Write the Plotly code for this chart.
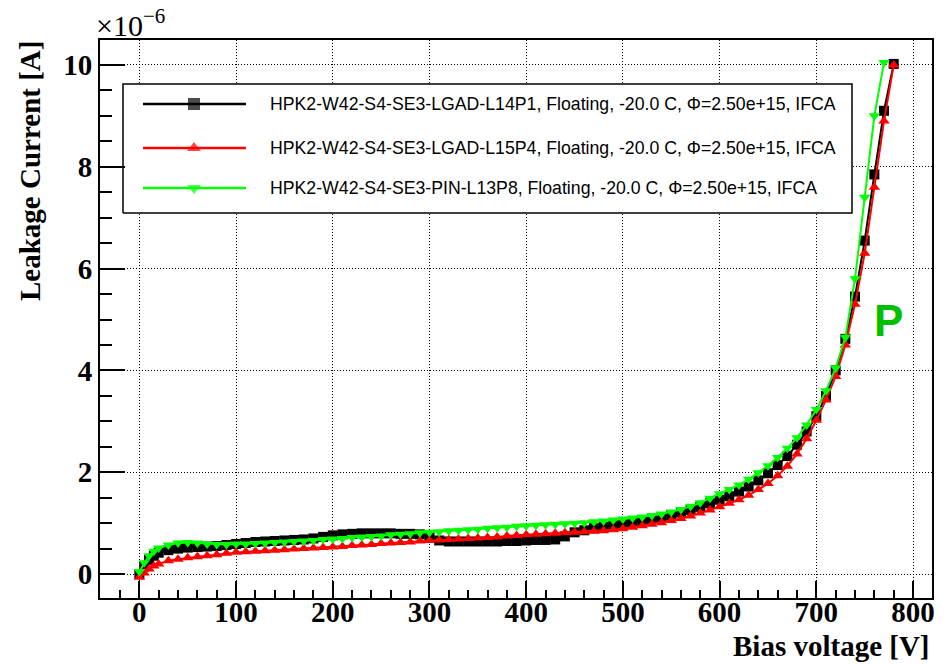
import plotly.graph_objects as go

# ---------------- data (current in units of 1e-6 A) ----------------
v_black = [0, 5, 10, 15, 20, 30, 40, 50, 60, 70, 80, 90, 100, 110, 120, 130, 140, 150, 160, 170,
           180, 190, 200, 210, 220, 230, 240, 250, 260, 270, 280, 290, 300, 310, 320, 330, 340, 350,
           360, 370, 380, 390, 400, 410, 420, 430, 440, 450, 460, 470, 480, 490, 500, 510, 520, 530,
           540, 550, 560, 570, 580, 590, 600, 610, 620, 630, 640, 650, 660, 670, 680, 690, 700, 710,
           720, 730, 740, 750, 760, 770, 780]
i_black = [0.00, 0.15, 0.28, 0.36, 0.42, 0.47, 0.50, 0.52, 0.53, 0.54, 0.55, 0.57, 0.59, 0.61, 0.63,
           0.64, 0.65, 0.66, 0.67, 0.68, 0.70, 0.73, 0.76, 0.78, 0.79, 0.80, 0.80, 0.80, 0.80, 0.79,
           0.79, 0.78, 0.73, 0.66, 0.64, 0.64, 0.64, 0.64, 0.64, 0.64, 0.65, 0.65, 0.66, 0.67, 0.67,
           0.68, 0.74, 0.82, 0.86, 0.90, 0.93, 0.96, 0.99, 1.02, 1.05, 1.08, 1.12, 1.16, 1.21, 1.26,
           1.32, 1.39, 1.46, 1.53, 1.62, 1.72, 1.84, 1.98, 2.14, 2.32, 2.54, 2.80, 3.10, 3.50, 4.00,
           4.62, 5.45, 6.55, 7.85, 9.10, 10.02]

v_red = [0, 5, 10, 15, 20, 30, 40, 50, 60, 70, 80, 90, 100, 110, 120, 130, 140, 150, 160, 170,
         180, 190, 200, 210, 220, 230, 240, 250, 260, 270, 280, 290, 300, 310, 320, 330, 340, 350,
         360, 370, 380, 390, 400, 410, 420, 430, 440, 450, 460, 470, 480, 490, 500, 510, 520, 530,
         540, 550, 560, 570, 580, 590, 600, 610, 620, 630, 640, 650, 660, 670, 680, 690, 700, 710,
         720, 730, 740, 750, 760, 770, 780]
i_red = [-0.06, 0.02, 0.10, 0.16, 0.20, 0.26, 0.29, 0.32, 0.34, 0.36, 0.38, 0.41, 0.43, 0.44, 0.45,
         0.46, 0.47, 0.48, 0.49, 0.50, 0.51, 0.52, 0.53, 0.54, 0.56, 0.57, 0.58, 0.60, 0.61, 0.62,
         0.63, 0.65, 0.66, 0.67, 0.68, 0.69, 0.70, 0.71, 0.72, 0.73, 0.75, 0.76, 0.77, 0.78, 0.79,
         0.80, 0.81, 0.82, 0.83, 0.84, 0.85, 0.87, 0.89, 0.92, 0.95, 0.98, 1.01, 1.05, 1.09, 1.14,
         1.20, 1.26, 1.32, 1.39, 1.46, 1.55, 1.66, 1.78, 1.93, 2.12, 2.36, 2.66, 3.02, 3.42, 3.88,
         4.50, 5.30, 6.30, 7.60, 8.90, 10.00]

v_green = [0, 5, 10, 15, 20, 30, 40, 50, 60, 70, 80, 90, 100, 110, 120, 130, 140, 150, 160, 170,
           180, 190, 200, 210, 220, 230, 240, 250, 260, 270, 280, 290, 300, 310, 320, 330, 340, 350,
           360, 370, 380, 390, 400, 410, 420, 430, 440, 450, 460, 470, 480, 490, 500, 510, 520, 530,
           540, 550, 560, 570, 580, 590, 600, 610, 620, 630, 640, 650, 660, 670, 680, 690, 700, 710,
           720, 730, 740, 750, 760, 770]
i_green = [0.05, 0.22, 0.36, 0.45, 0.51, 0.57, 0.61, 0.62, 0.61, 0.59, 0.58, 0.58, 0.59, 0.59, 0.60,
           0.61, 0.62, 0.63, 0.64, 0.65, 0.66, 0.68, 0.69, 0.70, 0.72, 0.73, 0.74, 0.75, 0.77, 0.78,
           0.79, 0.81, 0.82, 0.83, 0.85, 0.86, 0.87, 0.88, 0.90, 0.91, 0.92, 0.94, 0.95, 0.96, 0.97,
           0.98, 0.99, 1.00, 1.01, 1.03, 1.04, 1.06, 1.08, 1.10, 1.12, 1.15, 1.18, 1.22, 1.27, 1.33,
           1.40, 1.49, 1.58, 1.66, 1.75, 1.86, 1.99, 2.13, 2.29, 2.47, 2.68, 2.93, 3.23, 3.60, 4.05,
           4.65, 5.80, 7.40, 9.00, 10.05]

names = ["HPK2-W42-S4-SE3-LGAD-L14P1, Floating, -20.0 C, \u03a6=2.50e+15, IFCA",
         "HPK2-W42-S4-SE3-LGAD-L15P4, Floating, -20.0 C, \u03a6=2.50e+15, IFCA",
         "HPK2-W42-S4-SE3-PIN-L13P8, Floating, -20.0 C, \u03a6=2.50e+15, IFCA"]
colors = ["#000000", "#ff0000", "#00ff00"]
symbols = ["square", "triangle-up", "triangle-down"]

x_ticks = [0, 100, 200, 300, 400, 500, 600, 700, 800]
y_ticks = [0, 2, 4, 6, 8, 10]

# ---------------- figure ----------------
W, H = 949, 664
L, R, T, B = 100, 17, 40, 66
PW, PH = W - L - R, H - T - B


def px(xp):
    return (xp - L) / PW


def py(yp):
    return (H - B - yp) / PH


fig = go.Figure()
series = [(v_black, i_black), (v_red, i_red), (v_green, i_green)]
for (vx, iy), c, s, n in zip(series, colors, symbols, names):
    fig.add_trace(go.Scatter(x=vx, y=iy, mode="lines+markers", name=n,
                             line=dict(color=c, width=2),
                             marker=dict(symbol=s, size=10, color=c, line=dict(width=0)),
                             showlegend=False))

# manual ROOT-like legend on an overlay axis spanning the plot area [0,1]x[0,1]
bx0, bx1, by0, by1 = px(123), px(852), py(213), py(84)
fig.add_trace(go.Scatter(x=[bx0, bx1, bx1, bx0, bx0], y=[by0, by0, by1, by1, by0],
                         xaxis="x2", yaxis="y2", mode="lines", fill="toself",
                         fillcolor="white", line=dict(color="black", width=1.5),
                         showlegend=False, hoverinfo="skip"))
rows_px = [104, 148, 188]
for c, s, n, rp in zip(colors, symbols, names, rows_px):
    yy = py(rp)
    fig.add_trace(go.Scatter(x=[px(143), px(194), px(246)], y=[yy, yy, yy],
                             xaxis="x2", yaxis="y2", mode="lines+markers",
                             line=dict(color=c, width=2.5),
                             marker=dict(symbol=s, size=[0, 12, 0], color=c, line=dict(width=0)),
                             showlegend=False, hoverinfo="skip"))
    fig.add_annotation(x=px(268), y=yy, xref="paper", yref="paper", text=n, showarrow=False,
                       xanchor="left", yanchor="middle",
                       font=dict(family="Liberation Sans", size=17.7, color="black"))

tickfont = dict(family="Liberation Serif", size=29, color="black", weight="bold")
axis_common = dict(showline=True, linecolor="black", linewidth=2, mirror=True,
                   ticks="inside", tickcolor="black", tickwidth=1.5,
                   showgrid=True, gridcolor="black", gridwidth=1, griddash="1px,2px",
                   zeroline=False, tickfont=tickfont)

fig.update_layout(
    width=W, height=H, margin=dict(l=L, r=R, t=T, b=B),
    paper_bgcolor="white", plot_bgcolor="white", showlegend=False,
    xaxis=dict(range=[-40.7, 819.6], tickvals=x_ticks, ticklen=17, ticklabelstandoff=-13,
               minor=dict(dtick=20, tick0=0, ticks="inside", ticklen=8, tickcolor="black",
                          tickwidth=1.5, showgrid=False),
               **axis_common),
    yaxis=dict(range=[-0.47, 10.49], tickvals=y_ticks, ticklen=25,
               minor=dict(dtick=0.5, tick0=0, ticks="inside", ticklen=12, tickcolor="black",
                          tickwidth=1.5, showgrid=False),
               **axis_common),
    xaxis2=dict(overlaying="x", anchor="y2", range=[0, 1], visible=False),
    yaxis2=dict(overlaying="y", anchor="x2", range=[0, 1], visible=False),
)

# axis titles (ROOT style, right/top aligned)
fig.add_annotation(x=1, y=py(646), xref="paper", yref="paper", text="Bias voltage [V]",
                   showarrow=False, xanchor="right", yanchor="middle",
                   font=dict(family="Liberation Serif", size=29, color="black", weight="bold"))
fig.add_annotation(x=px(30), y=py(171), xref="paper", yref="paper", text="Leakage Current [A]",
                   showarrow=False, textangle=-90, xanchor="center", yanchor="middle",
                   font=dict(family="Liberation Serif", size=29, color="black", weight="bold"))
fig.add_annotation(x=px(94), y=py(44), xref="paper", yref="paper", text="\u00d710<sup>\u22126</sup>",
                   showarrow=False, xanchor="left", yanchor="bottom",
                   font=dict(family="Liberation Serif", size=30, color="black"))
fig.add_annotation(x=px(888), y=py(321), xref="paper", yref="paper", text="P",
                   showarrow=False, xanchor="center", yanchor="middle",
                   font=dict(family="Liberation Sans", size=44, color="#00c000", weight="bold"))

fig.write_html("out.html")
